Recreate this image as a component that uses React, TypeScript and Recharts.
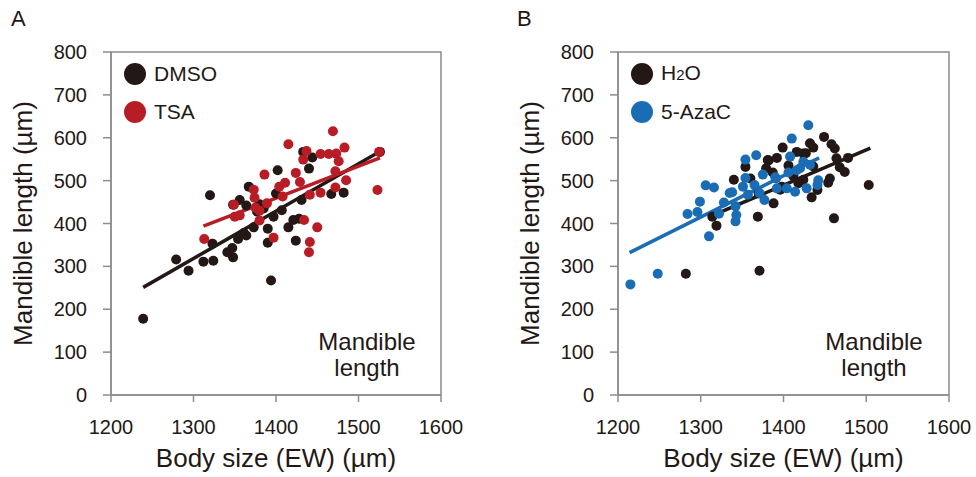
import { ScatterChart, Scatter, XAxis, YAxis, ReferenceArea, ReferenceLine, Label, Legend } from 'recharts';

// panel A: DMSO vs TSA
const dmsoBody = [1239, 1279, 1294, 1312, 1324, 1323, 1320, 1341, 1348, 1347, 1354, 1361, 1364, 1348, 1367, 1364, 1373, 1377, 1385, 1390, 1390, 1394, 1397, 1402, 1407, 1415, 1421, 1428, 1424, 1431, 1433, 1444, 1440, 1467, 1482, 1526, 1356, 1400, 1380];
const dmsoMand = [178, 316, 290, 311, 313, 353, 466, 333, 321, 343, 364, 378, 372, 444, 486, 442, 391, 428, 435, 388, 355, 267, 416, 524, 431, 391, 408, 411, 360, 455, 567, 554, 528, 469, 472, 567, 455, 470, 445];
const tsaBody = [1313, 1349, 1350, 1356, 1373, 1374, 1375, 1380, 1380, 1386, 1389, 1397, 1404, 1408, 1411, 1415, 1424, 1429, 1434, 1433, 1437, 1441, 1441, 1440, 1450, 1454, 1454, 1464, 1469, 1473, 1476, 1483, 1472, 1485, 1472, 1523, 1525];
const tsaMand = [364, 444, 416, 419, 479, 460, 437, 430, 407, 514, 447, 367, 486, 463, 495, 585, 518, 497, 408, 549, 569, 467, 357, 333, 391, 472, 562, 562, 615, 563, 545, 577, 522, 501, 484, 478, 567];
const dmsoFit = [[1239, 251], [1527, 569]];
const tsaFit = [[1312, 394], [1526, 553]];

// panel B: H2O vs 5-AzaC
const h2oBody = [1282, 1371, 1319, 1314, 1340, 1354, 1369, 1379, 1382, 1388, 1392, 1396, 1399, 1406, 1416, 1424, 1427, 1432, 1436, 1434, 1441, 1436, 1449, 1458, 1462, 1464, 1468, 1474, 1478, 1456, 1454, 1461, 1503, 1424, 1418, 1387, 1398, 1412, 1381, 1370, 1360];
const h2oMand = [283, 290, 395, 416, 502, 532, 416, 529, 547, 447, 553, 479, 577, 535, 567, 563, 564, 587, 577, 461, 478, 533, 602, 585, 575, 552, 531, 520, 553, 505, 495, 412, 490, 502, 494, 519, 486, 510, 548, 470, 505];
const azaBody = [1215, 1248, 1284, 1296, 1299, 1306, 1316, 1310, 1322, 1328, 1335, 1338, 1342, 1343, 1342, 1354, 1367, 1354, 1351, 1357, 1365, 1375, 1377, 1371, 1390, 1391, 1404, 1406, 1408, 1410, 1414, 1416, 1420, 1424, 1428, 1430, 1432, 1442, 1441, 1392];
const azaMand = [258, 283, 422, 427, 451, 489, 484, 370, 423, 449, 471, 473, 440, 420, 405, 549, 559, 506, 486, 467, 490, 514, 455, 471, 508, 505, 482, 519, 556, 598, 474, 524, 529, 544, 482, 629, 537, 501, 490, 482];
const h2oFit = [[1311, 416], [1505, 576]];
const azaFit = [[1214, 332], [1443, 553]];

const xTicks = [1200, 1300, 1400, 1500, 1600];
const yTicks = [0, 100, 200, 300, 400, 500, 600, 700, 800];

const INK = '#231815';
const FRAME = '#8c8c8c';
const BLACK = '#231815';
const RED = '#b81c25';
const BLUE = '#1a6db5';

const pts = (xs: number[], ys: number[]) => xs.map((x, i) => ({ x, y: ys[i] }));

const dot = (color: string) => (p: any) => <circle cx={p.cx} cy={p.cy} r={5} fill={color} />;

const yTitle = (props: any) => {
  const vb = props.viewBox;
  const cx = vb.x + vb.width - 79;
  const cy = vb.y + vb.height / 2;
  return (
    <text x={cx} y={cy} transform={`rotate(-90 ${cx} ${cy})`} textAnchor="middle" fontSize={26} fill={INK}>
      Mandible length (µm)
    </text>
  );
};

const xTitle = (props: any) => {
  const vb = props.viewBox;
  return (
    <text x={vb.x + vb.width / 2} y={vb.y + 72} textAnchor="middle" fontSize={26} fill={INK}>
      Body size (EW) (µm)
    </text>
  );
};

const note = (props: any) => {
  const vb = props.viewBox;
  const cx = vb.x + 256;
  const bottom = vb.y + vb.height;
  return (
    <text textAnchor="middle" fontSize={24} fill={INK}>
      <tspan x={cx} y={bottom - 45}>Mandible</tspan>
      <tspan x={cx} y={bottom - 19}>length</tspan>
    </text>
  );
};

type Item = { label: any; color: string };

const legendBox = (items: Item[]) => () => (
  <div style={{ display: 'flex', flexDirection: 'column' }}>
    {items.map((it, i) => (
      <div key={i} style={{ display: 'flex', alignItems: 'center', height: 38 }}>
        <span style={{ width: 22, height: 22, borderRadius: '50%', background: it.color, marginRight: 8 }} />
        <span style={{ fontSize: 21, color: INK, lineHeight: '22px' }}>{it.label}</span>
      </div>
    ))}
  </div>
);

type PanelProps = {
  width: number;
  axisWidth: number;
  right: number;
  left: number;
  ctrlX: number[];
  ctrlY: number[];
  trtX: number[];
  trtY: number[];
  ctrlFit: number[][];
  trtFit: number[][];
  trtColor: string;
  items: Item[];
};

function Panel(p: PanelProps) {
  return (
    <div style={{ position: 'absolute', left: p.left, top: 0 }}>
      <ScatterChart width={p.width} height={477} margin={{ top: 52, right: p.right, bottom: 0, left: 0 }}>
        <ReferenceArea x1={1200} x2={1600} y1={0} y2={800} fill="none" stroke={FRAME} strokeWidth={1.5} label={<Label content={note} />} />
        <XAxis
          type="number"
          dataKey="x"
          domain={[1200, 1600]}
          ticks={xTicks}
          height={82}
          tickSize={7}
          tickMargin={18}
          axisLine={{ stroke: FRAME, strokeWidth: 1.5 }}
          tickLine={{ stroke: FRAME, strokeWidth: 1.5 }}
          tick={{ fill: INK, fontSize: 20 }}
          label={<Label content={xTitle} />}
        />
        <YAxis
          type="number"
          dataKey="y"
          domain={[0, 800]}
          ticks={yTicks}
          width={p.axisWidth}
          tickSize={8}
          tickMargin={16}
          axisLine={{ stroke: FRAME, strokeWidth: 1.5 }}
          tickLine={{ stroke: FRAME, strokeWidth: 1.5 }}
          tick={{ fill: INK, fontSize: 20 }}
          label={<Label content={yTitle} />}
        />
        <Legend
          layout="vertical"
          align="center"
          verticalAlign="middle"
          content={legendBox(p.items)}
          wrapperStyle={{ left: p.axisWidth + 13, top: 55, width: 'auto', height: 'auto' }}
        />
        <Scatter data={pts(p.ctrlX, p.ctrlY)} shape={dot(BLACK)} isAnimationActive={false} />
        <Scatter data={pts(p.trtX, p.trtY)} shape={dot(p.trtColor)} isAnimationActive={false} />
        <ReferenceLine
          segment={[{ x: p.ctrlFit[0][0], y: p.ctrlFit[0][1] }, { x: p.ctrlFit[1][0], y: p.ctrlFit[1][1] }]}
          stroke={BLACK}
          strokeWidth={3.5}
        />
        <ReferenceLine
          segment={[{ x: p.trtFit[0][0], y: p.trtFit[0][1] }, { x: p.trtFit[1][0], y: p.trtFit[1][1] }]}
          stroke={p.trtColor}
          strokeWidth={3.5}
        />
      </ScatterChart>
    </div>
  );
}

export default function App() {
  return (
    <div style={{ position: 'absolute', left: 0, top: 0, width: 976, height: 477, background: '#fff', fontFamily: '"Liberation Sans", Arial, sans-serif' }}>
      <Panel
        left={0}
        width={490}
        axisWidth={111}
        right={49}
        ctrlX={dmsoBody}
        ctrlY={dmsoMand}
        trtX={tsaBody}
        trtY={tsaMand}
        ctrlFit={dmsoFit}
        trtFit={tsaFit}
        trtColor={RED}
        items={[{ label: 'DMSO', color: BLACK }, { label: 'TSA', color: RED }]}
      />
      <Panel
        left={490}
        width={486}
        axisWidth={128}
        right={27}
        ctrlX={h2oBody}
        ctrlY={h2oMand}
        trtX={azaBody}
        trtY={azaMand}
        ctrlFit={h2oFit}
        trtFit={azaFit}
        trtColor={BLUE}
        items={[
          { label: <>H<span style={{ fontSize: 15 }}>2</span>O</>, color: BLACK },
          { label: '5-AzaC', color: BLUE },
        ]}
      />
      <div style={{ position: 'absolute', left: 11, top: 6, fontSize: 22, color: INK }}>A</div>
      <div style={{ position: 'absolute', left: 517, top: 6, fontSize: 22, color: INK }}>B</div>
    </div>
  );
}
